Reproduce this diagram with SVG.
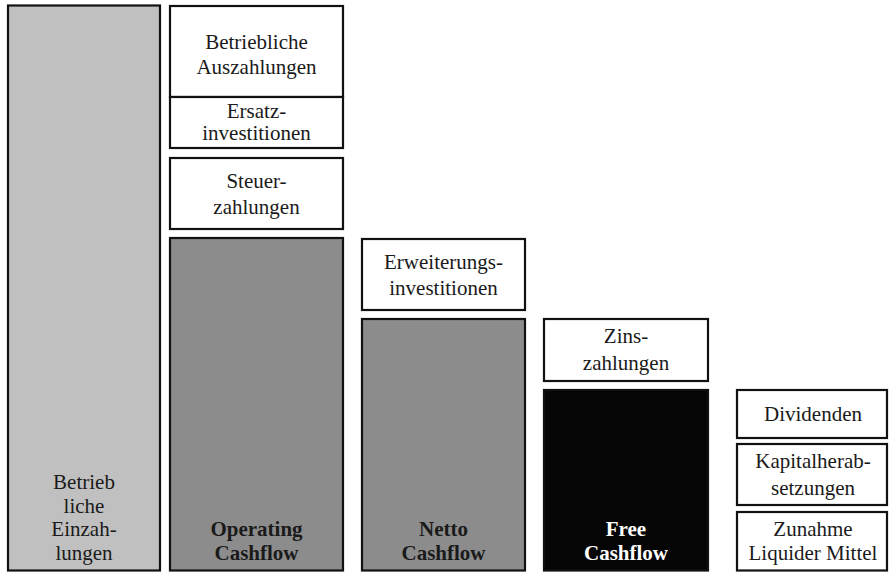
<svg xmlns="http://www.w3.org/2000/svg" width="889" height="573" viewBox="0 0 889 573">
  <style>
    .box { stroke: #111; stroke-width: 2.2; }
    .white { fill: #ffffff; }
    .light { fill: #c0c0c0; }
    .mid { fill: #8c8c8c; }
    .dark { fill: #050505; }
    text { font-family: 'Liberation Serif', 'Times New Roman', serif; font-size: 21px; fill: #1a1a1a; text-anchor: middle; }
    .bold { font-weight: bold; }
    .inv { fill: #ffffff; }
  </style>
  <rect width="889" height="573" fill="#ffffff"/>

  <g id="betriebliche-einzahlungen">
    <rect class="box light" x="8" y="5.5" width="152" height="565"/>
    <text x="84" y="489">Betrieb</text>
    <text x="84" y="512.5">liche</text>
    <text x="84" y="536">Einzah-</text>
    <text x="84" y="559.5">lungen</text>
  </g>

  <g id="betriebliche-auszahlungen">
    <rect class="box white" x="170" y="6" width="173" height="91"/>
    <text x="256.5" y="48.5">Betriebliche</text>
    <text x="256.5" y="74">Auszahlungen</text>
  </g>

  <g id="ersatzinvestitionen">
    <rect class="box white" x="170" y="97" width="173" height="51"/>
    <text x="256.5" y="118">Ersatz-</text>
    <text x="256.5" y="140">investitionen</text>
  </g>

  <g id="steuerzahlungen">
    <rect class="box white" x="170" y="158" width="173" height="71"/>
    <text x="256.5" y="188">Steuer-</text>
    <text x="256.5" y="213.5">zahlungen</text>
  </g>

  <g id="operating-cashflow">
    <rect class="box mid" x="170" y="238" width="173" height="332.5"/>
    <text class="bold" x="256.5" y="536">Operating</text>
    <text class="bold" x="256.5" y="559.5">Cashflow</text>
  </g>

  <g id="erweiterungsinvestitionen">
    <rect class="box white" x="362" y="239" width="163" height="71"/>
    <text x="443.5" y="268.5">Erweiterungs-</text>
    <text x="443.5" y="295">investitionen</text>
  </g>

  <g id="netto-cashflow">
    <rect class="box mid" x="362" y="319" width="163" height="251.5"/>
    <text class="bold" x="443.5" y="536">Netto</text>
    <text class="bold" x="443.5" y="559.5">Cashflow</text>
  </g>

  <g id="zinszahlungen">
    <rect class="box white" x="544" y="319" width="164" height="62"/>
    <text x="626" y="343">Zins-</text>
    <text x="626" y="369.5">zahlungen</text>
  </g>

  <g id="free-cashflow">
    <rect class="box dark" x="544" y="390" width="164" height="180.5"/>
    <text class="bold inv" x="626" y="536">Free</text>
    <text class="bold inv" x="626" y="559.5">Cashflow</text>
  </g>

  <g id="dividenden">
    <rect class="box white" x="737" y="390" width="150" height="48"/>
    <text x="813" y="420.5">Dividenden</text>
  </g>

  <g id="kapitalherabsetzungen">
    <rect class="box white" x="737" y="444" width="150" height="61"/>
    <text x="813" y="468">Kapitalherab-</text>
    <text x="813" y="494.5">setzungen</text>
  </g>

  <g id="zunahme-liquider-mittel">
    <rect class="box white" x="737" y="512" width="150" height="58.5"/>
    <text x="813" y="536">Zunahme</text>
    <text x="813" y="559.5">Liquider Mittel</text>
  </g>

  <g id="connectors"></g>
</svg>
